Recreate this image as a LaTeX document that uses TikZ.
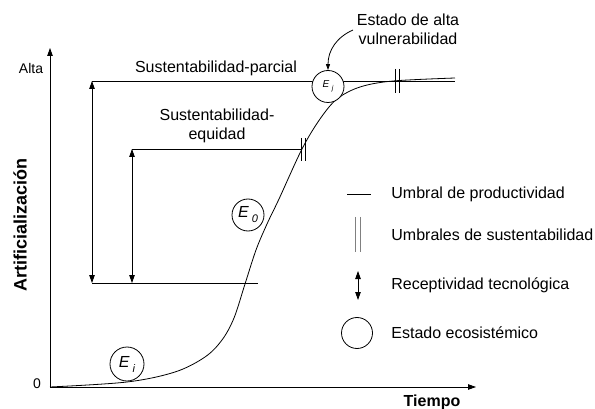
\documentclass[tikz,border=0pt]{standalone}
\usepackage{fontspec}
\setmainfont{Liberation Sans}
\usetikzlibrary{arrows.meta}
\begin{document}
\begin{tikzpicture}[x=1pt,y=-1pt, line width=0.8pt,
  tipend/.style={-{Triangle[length=8pt,width=5.5pt]}},
  twotip/.style={{Triangle[length=8pt,width=5.5pt]}-{Triangle[length=8pt,width=5.5pt]}},
  lab/.style={font=\fontsize{16}{19}\selectfont, inner sep=0pt, align=center},
  axlab/.style={font=\fontsize{14}{16}\selectfont, inner sep=0pt},
  bold/.style={font=\fontsize{16}{19}\selectfont\bfseries, inner sep=0pt},
  state/.style={circle, draw, fill=white, inner sep=0pt, minimum size=32pt},
  bar/.style={line width=0.8pt}]
\useasboundingbox (0,0) rectangle (595,409);

% axes
\coordinate (O) at (50,387);
\coordinate (Ytop) at (50,48);
\coordinate (Xend) at (476,387);
\draw[tipend] (O) -- (Ytop);
\draw[tipend] (O) -- (Xend);
\node[axlab] (alta) at (31,68) {Alta};
\node[axlab] (zero) at (37,384) {0};
\node[bold, font=\fontsize{18}{20}\selectfont\bfseries, rotate=90] (ylab) at (20,225) {Artificialización};
\node[bold] (xlab) at (432,402) {Tiempo};

% threshold lines
\coordinate (pA) at (92,81);
\coordinate (pAe) at (455,81);
\coordinate (pB) at (132,149);
\coordinate (pBe) at (302,149);
\coordinate (pC) at (92,283);
\coordinate (pD) at (132,283);
\coordinate (pCe) at (258,283);
\draw (pA) -- (pAe);
\draw (pB) -- (pBe);
\draw (pC) -- (pCe);
\draw[twotip] (pC) -- (pA);
\draw[twotip] (pD) -- (pB);

% curve
\draw plot[smooth, tension=0.55] coordinates {(50,387) (127,382) (175,372) (205,357) (222,340) (234,318) (245,284) (256,250) (267,224) (279,199) (302,149) (320,119) (337,99) (360,87) (393,81) (455,78)};

% sustainability bars
\draw[bar] (395,69) -- (395,93);
\draw[bar] (399.5,69) -- (399.5,93);
\draw[bar] (301,138) -- (301,161);
\draw[bar] (305.5,138) -- (305.5,161);

% states
\node[state] (Ej) at (328,86.5) {\fontsize{10}{10}\selectfont\itshape E\hspace{2.5pt}\raisebox{-3.5pt}{\fontsize{7}{7}\selectfont j}};
\node[state] (E0) at (248,215) {\fontsize{16}{16}\selectfont\itshape E\hspace{3pt}\raisebox{-5pt}{\fontsize{11}{11}\selectfont 0}};
\node[state, minimum size=34pt] (Ei) at (127,364) {\fontsize{16}{16}\selectfont\itshape E\hspace{3pt}\raisebox{-5pt}{\fontsize{11}{11}\selectfont i}};

% labels
\node[lab] (sp) at (216,68) {Sustentabilidad-parcial};
\node[lab] (se) at (217,126) {Sustentabilidad-\\equidad};
\node[lab] (vul) at (408,29) {Estado de alta\\vulnerabilidad};
\coordinate (vs) at (353,30);
\draw[-{Triangle[length=6pt,width=4pt]}] (vs) .. controls (337,37) and (328,50) .. (Ej.north);

% legend
\coordinate (l1a) at (347,194);
\coordinate (l1b) at (371,194);
\draw (l1a) -- (l1b);
\node[lab, anchor=west] (t1) at (391,194) {Umbral de productividad};
\draw[bar, gray] (355,217) -- (355,252);
\draw[bar, gray] (360.5,217) -- (360.5,252);
\node[lab, anchor=west] (t2) at (391,235) {Umbrales de sustentabilidad};
\coordinate (l3a) at (358,271);
\coordinate (l3b) at (358,300);
\draw[twotip] (l3a) -- (l3b);
\node[lab, anchor=west] (t3) at (391,285) {Receptividad tecnológica};
\node[state, minimum size=31pt] (lc) at (357,333) {};
\node[lab, anchor=west] (t4) at (391,333) {Estado ecosistémico};
\end{tikzpicture}
\end{document}
